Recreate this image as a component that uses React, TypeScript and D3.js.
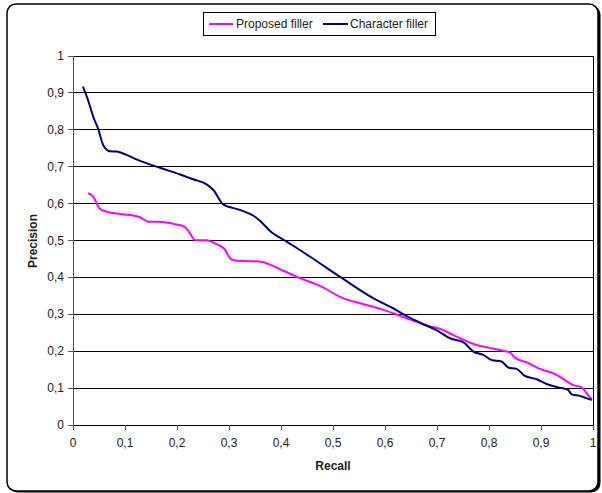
import React from "react";
import * as d3 from "d3";

const proposedRecall = [0.029, 0.039, 0.051, 0.065, 0.09, 0.11, 0.129, 0.145, 0.167, 0.193, 0.215, 0.225, 0.235, 0.257, 0.276, 0.292, 0.302, 0.312, 0.34, 0.363, 0.404, 0.437, 0.478, 0.52, 0.552, 0.597, 0.642, 0.68, 0.709, 0.731, 0.776, 0.802, 0.827, 0.84, 0.85, 0.872, 0.898, 0.93, 0.949, 0.962, 0.978, 0.988, 0.998];
const proposedPrecision = [0.628, 0.619, 0.587, 0.578, 0.572, 0.569, 0.563, 0.551, 0.551, 0.545, 0.537, 0.519, 0.501, 0.501, 0.49, 0.476, 0.452, 0.446, 0.444, 0.442, 0.418, 0.398, 0.375, 0.343, 0.33, 0.312, 0.289, 0.27, 0.259, 0.244, 0.217, 0.209, 0.201, 0.197, 0.182, 0.17, 0.152, 0.136, 0.119, 0.108, 0.102, 0.086, 0.068];

const characterRecall = [0.019, 0.029, 0.039, 0.049, 0.058, 0.071, 0.084, 0.103, 0.122, 0.167, 0.206, 0.231, 0.257, 0.27, 0.289, 0.321, 0.347, 0.36, 0.379, 0.411, 0.456, 0.513, 0.578, 0.616, 0.642, 0.674, 0.699, 0.725, 0.751, 0.77, 0.789, 0.805, 0.824, 0.837, 0.853, 0.869, 0.892, 0.911, 0.933, 0.952, 0.959, 0.975, 0.985, 0.998];
const characterPrecision = [0.917, 0.88, 0.835, 0.8, 0.759, 0.742, 0.741, 0.732, 0.72, 0.697, 0.679, 0.666, 0.652, 0.637, 0.598, 0.583, 0.567, 0.553, 0.526, 0.497, 0.456, 0.402, 0.343, 0.316, 0.295, 0.273, 0.257, 0.235, 0.224, 0.199, 0.19, 0.176, 0.172, 0.156, 0.152, 0.133, 0.124, 0.111, 0.102, 0.095, 0.083, 0.079, 0.074, 0.068];

const tickValues = [0, 0.1, 0.2, 0.3, 0.4, 0.5, 0.6, 0.7, 0.8, 0.9, 1];
const tickLabels = ["0", "0,1", "0,2", "0,3", "0,4", "0,5", "0,6", "0,7", "0,8", "0,9", "1"];

const seriesNames = ["Proposed filler", "Character filler"];
const seriesColors = ["#FF00FF", "#000080"];

export default function App() {
  const W = 602, H = 493;
  const x = d3.scaleLinear().domain([0, 1]).range([73, 593]);
  const y = d3.scaleLinear().domain([0, 1]).range([425, 56]);
  const line = d3.line<[number, number]>().x(d => x(d[0])).y(d => y(d[1])).curve(d3.curveMonotoneX);
  const s1 = proposedRecall.map((r, i) => [r, proposedPrecision[i]] as [number, number]);
  const s2 = characterRecall.map((r, i) => [r, characterPrecision[i]] as [number, number]);
  const font = "Arial, 'Liberation Sans', sans-serif";
  return (
    <svg width={W} height={H} style={{ position: "absolute", left: 0, top: 0, background: "#fff" }} fontFamily={font}>
      <rect x={8.5} y={5.5} width={592} height={487} rx={9} fill="#000" />
      <rect x={7} y={4} width={591} height={487} rx={9} fill="#fff" stroke="#000" strokeWidth={1.5} />
      {tickValues.map((t, i) => (
        <line key={"g" + i} x1={x(0)} x2={x(1)} y1={y(t)} y2={y(t)} stroke="#000" strokeWidth={1} shapeRendering="crispEdges" />
      ))}
      <line x1={x(1)} x2={x(1)} y1={y(1)} y2={y(0)} stroke="#000" strokeWidth={1} shapeRendering="crispEdges" />
      <line x1={x(0)} x2={x(0)} y1={y(1)} y2={y(0)} stroke="#555" strokeWidth={1} shapeRendering="crispEdges" />
      {tickValues.map((t, i) => (
        <g key={"yt" + i}>
          <line x1={x(0) - 5} x2={x(0)} y1={y(t)} y2={y(t)} stroke="#555" shapeRendering="crispEdges" />
          <text x={x(0) - 9} y={y(t) + 4} textAnchor="end" fontSize={12} fill="#222">{tickLabels[i]}</text>
        </g>
      ))}
      {tickValues.map((t, i) => (
        <g key={"xt" + i}>
          <line x1={x(t)} x2={x(t)} y1={y(0)} y2={y(0) + 5} stroke="#555" shapeRendering="crispEdges" />
          <text x={x(t)} y={447} textAnchor="middle" fontSize={12} fill="#222">{tickLabels[i]}</text>
        </g>
      ))}
      <path d={line(s1) || ""} fill="none" stroke={seriesColors[0]} strokeWidth={2} />
      <path d={line(s2) || ""} fill="none" stroke={seriesColors[1]} strokeWidth={2} />
      <text x={x(0.5)} y={470} textAnchor="middle" fontSize={12} fontWeight="bold" fill="#222">Recall</text>
      <text transform={`translate(37,241) rotate(-90)`} textAnchor="middle" fontSize={12} fontWeight="bold" fill="#222">Precision</text>
      <rect x={203.5} y={12.5} width={232} height={23} fill="#fff" stroke="#000" strokeWidth={1} />
      <line x1={209} x2={233} y1={24} y2={24} stroke={seriesColors[0]} strokeWidth={2} />
      <text x={236} y={28} fontSize={12} fill="#222">{seriesNames[0]}</text>
      <line x1={323} x2={348} y1={24} y2={24} stroke={seriesColors[1]} strokeWidth={2} />
      <text x={350} y={28} fontSize={12} fill="#222">{seriesNames[1]}</text>
    </svg>
  );
}
